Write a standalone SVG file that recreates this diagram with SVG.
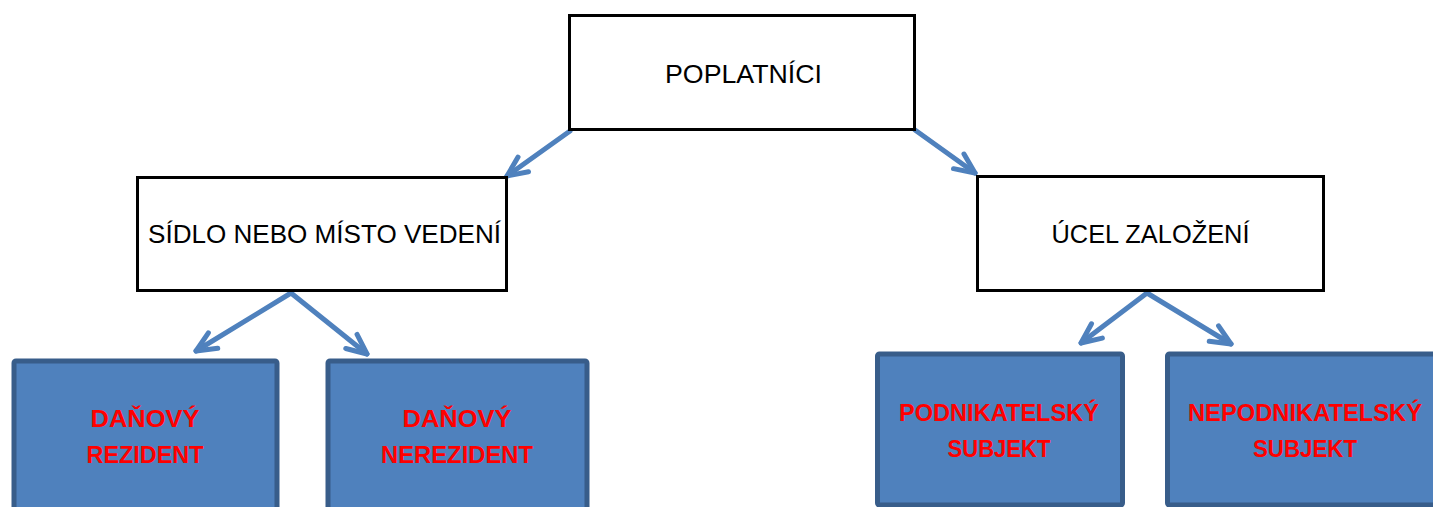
<svg xmlns="http://www.w3.org/2000/svg" width="1433" height="507" viewBox="0 0 1433 507">
  <style>
    .plain { fill: #ffffff; stroke: #000000; stroke-width: 3; }
    .leaf { fill: #4f81bd; stroke: #385d8a; stroke-width: 5; }
    .head { font-family: "Liberation Sans", Arial, sans-serif; font-size: 26px; fill: #000000; text-anchor: middle; }
    .sub { font-family: "Liberation Sans", Arial, sans-serif; font-size: 24px; font-weight: bold; fill: #ff0000; text-anchor: middle; }
    .link { fill: none; stroke: #4f81bd; stroke-width: 5; stroke-linecap: round; marker-end: url(#open); }
  </style>
  <defs>
    <marker id="open" markerUnits="userSpaceOnUse" viewBox="-25 -14 30 28" refX="0" refY="0" markerWidth="30" markerHeight="28" orient="auto" overflow="visible">
      <path d="M -20,-9 L 0,0 L -20,9" fill="none" stroke="#4f81bd" stroke-width="5" stroke-linecap="round" stroke-linejoin="round"/>
    </marker>
  </defs>

  <rect width="1433" height="507" fill="#ffffff"/>

  <g id="connectors">
    <path class="link" d="M 570,131 L 507,176"/>
    <path class="link" d="M 915,130 L 975,173"/>
    <path class="link" d="M 291,293 L 196,351"/>
    <path class="link" d="M 291,293 L 367,354"/>
    <path class="link" d="M 1147,293 L 1081,343"/>
    <path class="link" d="M 1147,293 L 1231,344"/>
  </g>

  <g id="poplatnici">
    <rect class="plain" x="569.5" y="15.5" width="345" height="114"/>
    <text class="head" x="743.5" y="83" textLength="157" lengthAdjust="spacingAndGlyphs">POPLATNÍCI</text>
  </g>

  <g id="sidlo">
    <rect class="plain" x="137.5" y="177.5" width="369" height="113"/>
    <text class="head" x="324.5" y="243" textLength="353" lengthAdjust="spacingAndGlyphs">SÍDLO NEBO MÍSTO VEDENÍ</text>
  </g>

  <g id="ucel">
    <rect class="plain" x="977.5" y="176.5" width="346" height="114"/>
    <text class="head" x="1150.5" y="243" textLength="198" lengthAdjust="spacingAndGlyphs">ÚCEL ZALOŽENÍ</text>
  </g>

  <g id="rezident">
    <rect class="leaf" x="14" y="361" width="263" height="160" rx="2"/>
    <text class="sub" x="145" y="427" textLength="109" lengthAdjust="spacingAndGlyphs">DAŇOVÝ</text>
    <text class="sub" x="145" y="463" textLength="117" lengthAdjust="spacingAndGlyphs">REZIDENT</text>
  </g>

  <g id="nerezident">
    <rect class="leaf" x="328" y="361" width="259" height="160" rx="2"/>
    <text class="sub" x="457" y="427" textLength="109" lengthAdjust="spacingAndGlyphs">DAŇOVÝ</text>
    <text class="sub" x="457" y="463" textLength="152" lengthAdjust="spacingAndGlyphs">NEREZIDENT</text>
  </g>

  <g id="podnikatelsky">
    <rect class="leaf" x="877.5" y="354" width="245" height="151" rx="2"/>
    <text class="sub" x="999" y="421" textLength="200" lengthAdjust="spacingAndGlyphs">PODNIKATELSKÝ</text>
    <text class="sub" x="999" y="457" textLength="103" lengthAdjust="spacingAndGlyphs">SUBJEKT</text>
  </g>

  <g id="nepodnikatelsky">
    <rect class="leaf" x="1167.5" y="354" width="280" height="151" rx="2"/>
    <text class="sub" x="1305" y="421" textLength="234" lengthAdjust="spacingAndGlyphs">NEPODNIKATELSKÝ</text>
    <text class="sub" x="1305" y="457" textLength="104" lengthAdjust="spacingAndGlyphs">SUBJEKT</text>
  </g>
</svg>
